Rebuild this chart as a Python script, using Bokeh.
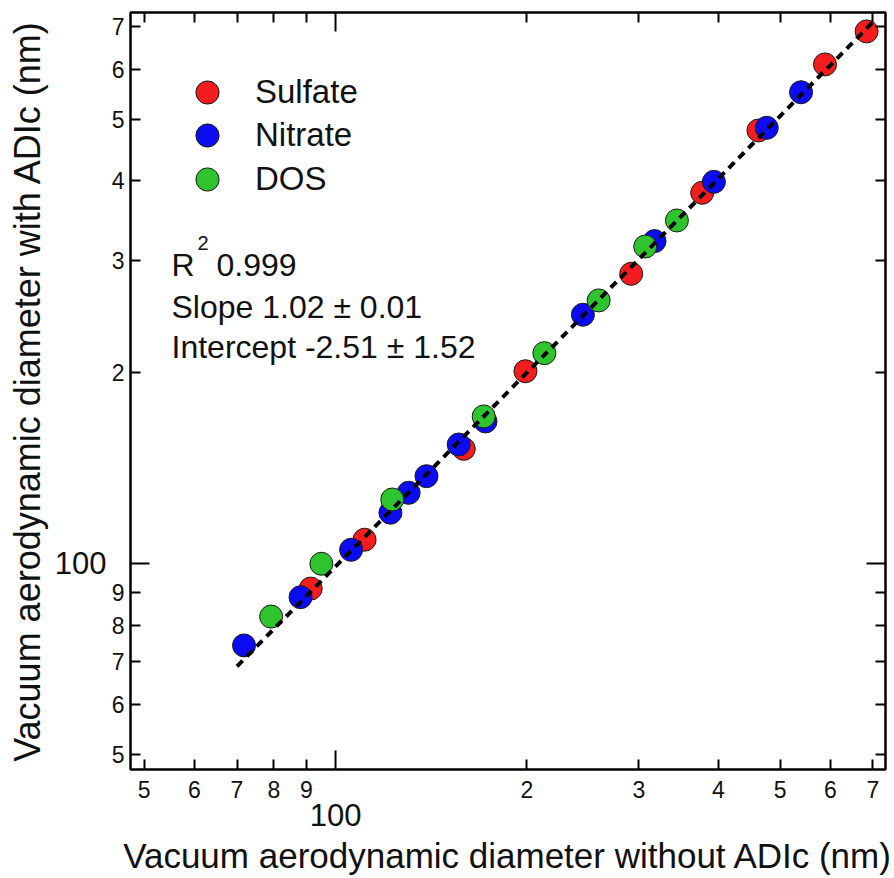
from bokeh.plotting import figure
from bokeh.models import (LogAxis, FixedTicker, Label, Legend, LegendItem,
                          ColumnDataSource)
from bokeh.embed import file_html
from bokeh.resources import INLINE

# ---------------- data ----------------
sulfate_x = [91.4, 111.1, 159.1, 198.9, 291.7, 377.2, 462.4, 588.4, 684.1]
sulfate_y = [91.3, 109.0, 151.5, 200.7, 285.7, 383.2, 480.2, 610.1, 687.7]

nitrate_x = [71.8, 88.1, 105.8, 122.0, 130.3, 139.0, 156.2, 172.1, 244.9, 317.4, 393.5, 476.5, 539.5]
nitrate_y = [74.3, 88.5, 105.1, 120.2, 129.2, 137.2, 153.9, 167.3, 246.3, 321.6, 398.7, 484.9, 551.6]

dos_x = [79.2, 95.0, 122.8, 171.0, 213.0, 259.3, 306.9, 344.2]
dos_y = [82.5, 99.9, 126.1, 170.4, 214.3, 259.4, 315.4, 346.6]

fit_slope = 1.02
fit_intercept = -2.51
fit_x = [70.0, 708.0]
fit_y = [fit_slope * v + fit_intercept for v in fit_x]

series_names = ["Sulfate", "Nitrate", "DOS"]
series_colors = ["#f41c1c", "#0c0cf2", "#2ec42e"]

minor_ticks = [50, 60, 70, 80, 90, 200, 300, 400, 500, 600, 700]
minor_labels = ["5", "6", "7", "8", "9", "2", "3", "4", "5", "6", "7"]
major_ticks = [100]
major_labels = ["100"]

x_label = "Vacuum aerodynamic diameter without ADIc (nm)"
y_label = "Vacuum aerodynamic diameter with ADIc (nm)"
stats_r2 = "0.999"
stats_lines = ["Slope 1.02 \u00b1 0.01", "Intercept -2.51 \u00b1 1.52"]

FONT = "Liberation Sans"
TXT = "#111111"

# ---------------- figure ----------------
p = figure(x_axis_type="log", y_axis_type="log",
           x_range=(47.6, 732.5), y_range=(47.4, 736.4),
           x_axis_location=None, y_axis_location=None,
           frame_width=755, frame_height=757,
           min_border_left=130, min_border_top=12, min_border_right=8, min_border_bottom=0,
           output_backend="svg", toolbar_location=None,
           background_fill_color="white", border_fill_color="white")
p.outline_line_color = "black"
p.outline_line_width = 2
p.grid.visible = False

overrides = {t: l for t, l in zip(minor_ticks, minor_labels)}
big_overrides = {t: l for t, l in zip(major_ticks, major_labels)}


def tick_axis(show_labels, standoff):
    ax = LogAxis(ticker=FixedTicker(ticks=minor_ticks, minor_ticks=major_ticks),
                 major_label_overrides=overrides,
                 major_tick_in=10, major_tick_out=0,
                 minor_tick_in=19, minor_tick_out=0,
                 axis_line_width=2, major_tick_line_width=2, minor_tick_line_width=2,
                 axis_line_color="black", major_tick_line_color="black",
                 minor_tick_line_color="black",
                 major_label_text_font=FONT, major_label_text_color=TXT,
                 major_label_text_font_size="23px",
                 major_label_standoff=standoff)
    if not show_labels:
        ax.major_label_text_color = None
        ax.major_label_text_alpha = 0
        ax.major_label_text_font_size = "1px"
        ax.major_label_standoff = 0
    return ax


def big_axis(title, title_size, standoff, title_standoff):
    ax = LogAxis(ticker=FixedTicker(ticks=major_ticks),
                 major_label_overrides=big_overrides,
                 major_tick_in=0, major_tick_out=0, minor_tick_in=0, minor_tick_out=0,
                 axis_line_color=None, major_tick_line_color=None, minor_tick_line_color=None,
                 major_label_text_font=FONT, major_label_text_font_size="31px",
                 major_label_text_color=TXT,
                 major_label_standoff=standoff,
                 axis_label=title, axis_label_text_font=FONT,
                 axis_label_text_font_size=title_size, axis_label_text_font_style="normal",
                 axis_label_text_color=TXT,
                 axis_label_standoff=title_standoff)
    return ax


p.add_layout(tick_axis(True, 11), "below")
p.add_layout(big_axis(x_label, "35px", 3, 7), "below")
p.add_layout(tick_axis(True, 6), "left")
p.add_layout(big_axis(y_label, "36px", 2, 4), "left")
p.add_layout(tick_axis(False, 0), "above")
p.add_layout(tick_axis(False, 0), "right")

# ---------------- data glyphs ----------------
renderers = []
for xs, ys, c in zip([sulfate_x, nitrate_x, dos_x], [sulfate_y, nitrate_y, dos_y], series_colors):
    src = ColumnDataSource(dict(x=xs, y=ys))
    r = p.scatter("x", "y", source=src, marker="circle", size=23,
                  fill_color=c, line_color="#1a1a1a", line_width=1)
    renderers.append(r)

p.line(fit_x, fit_y, line_color="black", line_width=4, line_dash="8 6")

# one legend box per entry so that the rows sit closer than the glyph box height
legend_bottoms = [648, 605, 561]
for n, r, yb in zip(series_names, renderers, legend_bottoms):
    lg = Legend(items=[LegendItem(label=n, renderers=[r])],
                location=(48, yb), orientation="vertical",
                glyph_width=58, glyph_height=58, spacing=0,
                label_standoff=19, label_text_font=FONT, label_text_font_size="33px",
                label_text_color=TXT,
                border_line_color=None, background_fill_alpha=0,
                padding=0, margin=0)
    p.add_layout(lg, "center")

# ---------------- statistics text ----------------
common = dict(x_units="screen", y_units="screen", text_font=FONT,
              text_color=TXT, text_baseline="alphabetic")
p.add_layout(Label(x=41, y=505, text="R", text_font_size="32px", **common))
p.add_layout(Label(x=67, y=527, text="2", text_font_size="20px", **common))
p.add_layout(Label(x=86, y=505, text=stats_r2, text_font_size="32px", **common))
p.add_layout(Label(x=41, y=463, text=stats_lines[0], text_font_size="32px", **common))
p.add_layout(Label(x=41, y=423, text=stats_lines[1], text_font_size="32px", **common))

open("out.html", "w").write(file_html(p, INLINE))
